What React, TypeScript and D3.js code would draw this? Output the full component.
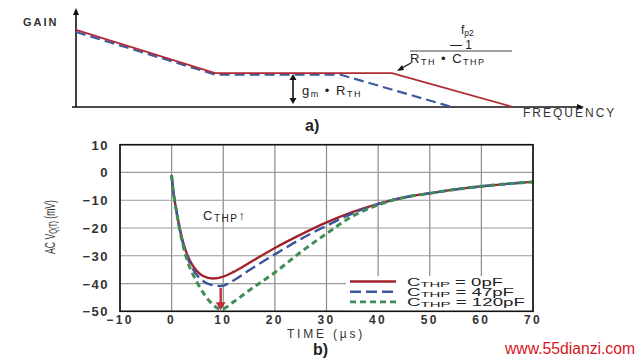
import * as d3 from "d3"
import React from "react"

// panel a) gain vs frequency (arbitrary units, 0..100 on both axes)
const gainRed: [number, number][] = [[0, 77.8], [27.6, 34.3], [62.7, 34.3], [86.7, 0]]
const gainBlue: [number, number][] = [[0, 75.8], [27.6, 32.8], [52.4, 32.8], [74.6, 0]]

// panel b) AC V_Q(T) vs time
const timeTicks = [-10, 0, 10, 20, 30, 40, 50, 60, 70]
const mvTicks = [10, 0, -10, -20, -30, -40, -50]

const tail: [number, number][] = [[45, -9], [50, -7.5], [55, -6.1], [60, -5], [65, -4.1], [70, -3.4]]
const red0pF: [number, number][] = [
  [0, -1], [0.3, -6.5], [0.8, -12.5], [1.5, -19.5], [2.2, -25], [3, -29.5], [4, -33.3], [5, -35.7],
  [6, -37.2], [8, -38.2], [10, -37.5], [12, -35.8], [15, -32.6], [20, -27.2], [25, -22.4],
  [30, -18], [35, -14.3], [40, -11.3], ...tail,
]
const blue47pF: [number, number][] = [
  [0, -1], [0.3, -6.5], [0.8, -12.5], [1.5, -19.8], [2.2, -25.6], [3, -30.4], [4, -34.4], [5, -37.2],
  [6, -39], [7.5, -40.4], [9.5, -40.9], [12, -38.9], [15, -35.2], [20, -29.5], [25, -24],
  [30, -19.2], [35, -14.8], [40, -11.4], ...tail,
]
const green120pF: [number, number][] = [
  [0, -1], [0.3, -6.5], [0.8, -12.5], [1.5, -20], [2.2, -26.2], [3, -31.5], [4, -36.2], [5, -39.8],
  [6, -43], [7.5, -46.7], [9.6, -49.3], [12, -46.6], [15, -42.5], [20, -36], [25, -28.7],
  [30, -22], [35, -15.8], [40, -11.7], ...tail,
]
const legendLabels = ["0pF", "47pF", "120pF"]
const seriesColors = ["#a3232b", "#3a56a0", "#3f8c55"]
const seriesDash = ["none", "11,5", "6,4"]

const font = "'Liberation Sans', Arial, sans-serif"

export default function App() {
  // panel a scales
  const ax = d3.scaleLinear().domain([0, 100]).range([76, 580])
  const ay = d3.scaleLinear().domain([0, 100]).range([107, 8])
  const aLine = d3.line<[number, number]>().x(d => ax(d[0])).y(d => ay(d[1]))

  // panel b scales
  const x = d3.scaleLinear().domain([-10, 70]).range([120, 533])
  const y = d3.scaleLinear().domain([-50, 10]).range([311.3, 144.7])
  const line = d3.line<[number, number]>().curve(d3.curveMonotoneX).x(d => x(d[0])).y(d => y(d[1]))
  const series = [red0pF, blue47pF, green120pF]

  const arrowX = x(9.5)
  const arrowTop = y(-41.6)
  const arrowTip = y(-49.6)

  return (
    <svg width={640} height={360} style={{ position: "absolute", left: 0, top: 0, background: "#fff" }} fontFamily={font}>
      {/* ---------- panel a ---------- */}
      <text x={23} y={26} fontSize={11} fontWeight="bold" letterSpacing={2} fill="#333">GAIN</text>
      <line x1={ax(0)} y1={ay(0)} x2={ax(0)} y2={ay(100) + 2} stroke="#111" strokeWidth={1.6} />
      <polygon points={`${ax(0)},${ay(100)} ${ax(0) - 3},${ay(100) + 7} ${ax(0) + 3},${ay(100) + 7}`} fill="#111" />
      <line x1={ax(0) - 4} y1={ay(0)} x2={582} y2={ay(0)} stroke="#111" strokeWidth={1.4} />
      <polygon points={`584,${ay(0)} 577,${ay(0) - 3} 577,${ay(0) + 3}`} fill="#111" />
      <path d={aLine(gainBlue) || ""} fill="none" stroke="#3d5a9c" strokeWidth={2.2} strokeDasharray="10,5" />
      <path d={aLine(gainRed) || ""} fill="none" stroke="#b02a35" strokeWidth={1.8} />
      {/* g_m * R_TH arrow */}
      <line x1={293} y1={77} x2={293} y2={101} stroke="#111" strokeWidth={1.6} />
      <polygon points="293,74 289.5,80 296.5,80" fill="#111" />
      <polygon points="293,104 289.5,98 296.5,98" fill="#111" />
      <text x={302} y={95} fontSize={13} fill="#222" letterSpacing={1.5}>
        g<tspan fontSize={9} dy={2}>m</tspan><tspan dy={-2}> • R</tspan><tspan fontSize={9} dy={2}>TH</tspan>
      </text>
      {/* f_p2 annotation */}
      <text x={461} y={34} fontSize={12} fill="#222">f<tspan fontSize={8.5} dy={1.5}>p2</tspan></text>
      <text x={461} y={48.5} fontSize={12} fill="#222" textAnchor="middle">— 1</text>
      <line x1={410} y1={51} x2={512} y2={51} stroke="#444" strokeWidth={1} />
      <text x={410} y={63} fontSize={13} fill="#222" letterSpacing={1.5}>
        R<tspan fontSize={9} dy={2}>TH</tspan><tspan dy={-2}> • C</tspan><tspan fontSize={9} dy={2}>THP</tspan>
      </text>
      <line x1={411} y1={63} x2={400} y2={69} stroke="#111" strokeWidth={1.3} />
      <polygon points="397,71 402,65 404,70" fill="#111" />
      <text x={523} y={117} fontSize={12} fill="#333" letterSpacing={2}>FREQUENCY</text>
      <text x={305} y={131} fontSize={16} fontWeight="bold" fill="#222">a)</text>

      {/* ---------- panel b ---------- */}
      {timeTicks.map(t => (
        <line key={"gx" + t} x1={x(t)} x2={x(t)} y1={y(10)} y2={y(-50)} stroke="#8a8a8a" strokeWidth={1.2} />
      ))}
      {mvTicks.map(v => (
        <line key={"gy" + v} x1={x(-10)} x2={x(70)} y1={y(v)} y2={y(v)} stroke="#9a9a9a" strokeWidth={1.2} />
      ))}
      {mvTicks.map(v => (
        <text key={"ty" + v} x={109} y={y(v) + 5} textAnchor="end" fontSize={13} fontWeight="bold" fill="#333" letterSpacing={1.5}>
          {v < 0 ? "−" + Math.abs(v) : v}
        </text>
      ))}
      {timeTicks.map(t => (
        <text key={"tx" + t} x={x(t)} y={324} textAnchor="middle" fontSize={12} fontWeight="bold" fill="#333" letterSpacing={2.4}>
          {t < 0 ? "−" + Math.abs(t) : t}
        </text>
      ))}
      <text x={326} y={338} textAnchor="middle" fontSize={12} fill="#333" letterSpacing={2.8}>TIME (µs)</text>
      <text transform="translate(55,227) rotate(-90)" textAnchor="middle" fontSize={14} fill="#333" textLength={54} lengthAdjust="spacingAndGlyphs">
        AC V<tspan fontSize={10} dy={2}>Q(T)</tspan><tspan dy={-2}> (mV)</tspan>
      </text>

      {/* legend box hides grid */}
      <rect x={346} y={276} width={186} height={35} fill="#fff" />

      {series.map((s, i) => (
        <path key={"s" + i} d={line(s) || ""} fill="none" stroke={seriesColors[i]}
          strokeWidth={i === 2 ? 3 : 2.4} strokeDasharray={seriesDash[i]} />
      ))}
      {/* C_THP arrow */}
      <line x1={arrowX} y1={arrowTop} x2={arrowX} y2={arrowTip - 6} stroke="#c0303a" strokeWidth={2.4} />
      <polygon points={`${arrowX},${arrowTip} ${arrowX - 5},${arrowTip - 8} ${arrowX + 5},${arrowTip - 8}`} fill="#c0303a" />
      <text x={203} y={220} fontSize={13} fill="#222" letterSpacing={1.5}>
        C<tspan fontSize={10} dy={2}>THP</tspan><tspan dy={-2}>↑</tspan>
      </text>

      <rect x={x(-10)} y={y(10)} width={x(70) - x(-10)} height={y(-50) - y(10)} fill="none" stroke="#111" strokeWidth={1.6} />

      {legendLabels.map((lab, i) => {
        const ly = 281.5 + i * 10.2
        const len = 96 + i * 11
        return (
          <g key={"lg" + i}>
            <line x1={350} x2={396} y1={ly} y2={ly} stroke={seriesColors[i]} strokeWidth={2.6} strokeDasharray={seriesDash[i]} />
            <text x={407} y={ly + 4} fontSize={10} fill="#222" textLength={len} lengthAdjust="spacingAndGlyphs">
              C<tspan fontSize={8} dy={1}>THP</tspan><tspan dy={-1}> = {lab}</tspan>
            </text>
          </g>
        )
      })}
      <text x={313} y={355} fontSize={16} fontWeight="bold" fill="#222">b)</text>
      <text x={505} y={354} fontSize={16} fill="#d4161c" textLength={130} lengthAdjust="spacingAndGlyphs" fontFamily="'Liberation Sans Narrow', Arial, sans-serif">www.55dianzi.com</text>
    </svg>
  )
}
